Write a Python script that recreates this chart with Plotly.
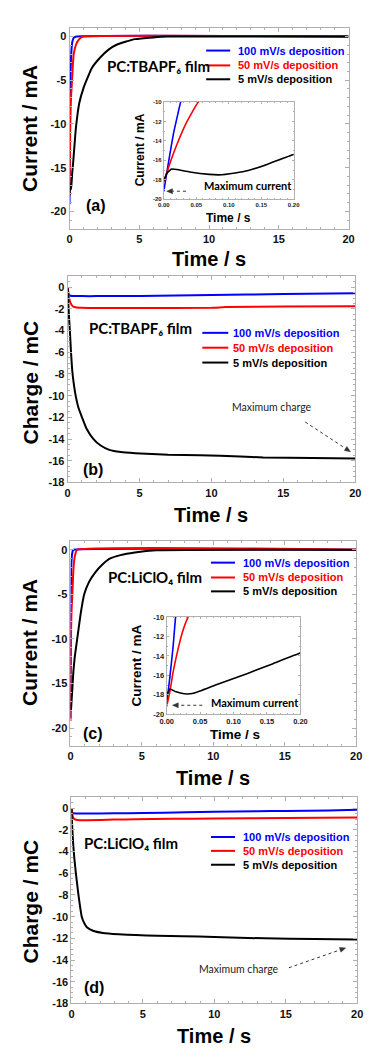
import plotly.graph_objects as go

W, H = 369, 1052

# ---------------- (a) PC:TBAPF6 film, current transients ----------------
ta_100 = [0, 0.004, 0.008, 0.015, 0.02, 0.026, 0.04, 0.07, 0.1, 0.15, 0.2, 0.3, 0.5, 20]
ia_100 = [-19.2, -17.5, -15.9, -13.2, -11.7, -10.0, -7.6, -4.6, -2.8, -1.3, -0.6, -0.15, 0, 0]
ta_50 = [0, 0.005, 0.01, 0.02, 0.035, 0.053, 0.08, 0.12, 0.18, 0.24, 0.3, 0.45, 0.6, 0.8, 1.0, 20]
ia_50 = [-18.2, -17.2, -16.2, -14.4, -12.1, -10.0, -8.2, -6.5, -5.0, -3.2, -2.0, -1.0, -0.5, -0.15, 0, 0]
ta_5 = [0, 0.005, 0.012, 0.02, 0.04, 0.07, 0.085, 0.11, 0.13, 0.16, 0.2, 0.23, 0.3, 0.46,
        0.7, 1.0, 1.22, 1.6, 2.2, 2.8, 3.3, 4.0, 4.7, 6.0, 7.0, 20]
ia_5 = [-18.1, -17.3, -16.9, -16.95, -17.2, -17.45, -17.5, -17.3, -17.05, -16.4, -15.4, -15.0,
        -13.6, -10.4, -7.6, -5.9, -5.0, -3.6, -2.4, -1.5, -1.0, -0.6, -0.3, -0.1, 0, 0]

# ---------------- (b) PC:TBAPF6 film, charge ----------------
tb_100 = [0, 0.05, 0.1, 0.2, 0.4, 1, 2, 5, 10, 15, 20]
qb_100 = [0, -0.5, -0.7, -0.78, -0.8, -0.82, -0.82, -0.8, -0.72, -0.63, -0.55]
tb_50 = [0, 0.05, 0.1, 0.2, 0.35, 0.56, 1.0, 1.6, 5, 10, 11, 15, 20]
qb_50 = [0, -0.6, -1.0, -1.45, -1.75, -1.85, -1.9, -1.92, -1.92, -1.9, -1.82, -1.78, -1.75]
tb_5 = [0, 0.04, 0.08, 0.16, 0.22, 0.33, 0.45, 0.56, 0.75, 1.0, 1.3, 1.8, 2.3, 2.9, 3.7, 4.7,
        7, 9.2, 12, 13.6, 17, 20]
qb_5 = [0, -1.2, -2.3, -4.1, -5.6, -7.8, -9.1, -10.0, -11.1, -12.0, -13.0, -14.0, -14.6, -15.0,
        -15.2, -15.3, -15.45, -15.5, -15.6, -15.7, -15.75, -15.8]

# ---------------- (c) PC:LiClO4 film, current transients ----------------
tc_100 = [0, 0.0047, 0.0095, 0.0133, 0.02, 0.03, 0.05, 0.08, 0.12, 0.16, 0.2, 20]
ic_100 = [-18.9, -16.2, -13.1, -10.0, -7.0, -4.5, -2.2, -1.0, -0.4, -0.1, 0, 0]
tc_50 = [0, 0.0047, 0.0095, 0.0166, 0.0237, 0.032, 0.05, 0.08, 0.13, 0.18, 0.25, 0.35, 0.45, 20]
ic_50 = [-19.2, -17.7, -15.7, -13.4, -11.5, -10.0, -8.2, -6.5, -5.0, -3.0, -1.3, -0.4, 0, 0]
tc_5 = [0, 0.0047, 0.014, 0.026, 0.04, 0.073, 0.121, 0.159, 0.2, 0.3, 0.47, 0.7, 0.96, 1.3,
        1.75, 2.2, 2.75, 3.5, 4.5, 6, 20]
ic_5 = [-18.1, -17.4, -17.7, -17.9, -17.85, -17.0, -15.8, -14.8, -13.7, -12.0, -10.0, -7.3,
        -5.0, -3.6, -2.5, -1.7, -1.0, -0.6, -0.3, -0.05, 0]

# ---------------- (d) PC:LiClO4 film, charge ----------------
td_100 = [0, 0.05, 0.1, 0.3, 1, 3, 5, 8, 10, 13, 15, 18, 20]
qd_100 = [0, -0.35, -0.45, -0.48, -0.48, -0.47, -0.45, -0.38, -0.33, -0.28, -0.25, -0.2, -0.15]
td_50 = [0, 0.05, 0.1, 0.2, 0.4, 1.1, 3, 4.5, 7, 10, 15, 20]
qd_50 = [0, -0.5, -0.8, -1.0, -1.08, -1.1, -1.05, -1.02, -0.98, -0.95, -0.9, -0.85]
td_5 = [0, 0.05, 0.11, 0.2, 0.31, 0.49, 0.72, 0.9, 1.1, 1.5, 2.2, 3.3, 4.5, 6, 7.8, 10, 13.5,
        17, 20]
qd_5 = [0, -1.6, -3.1, -4.6, -6.0, -8.0, -10.0, -10.6, -11.0, -11.3, -11.5, -11.62, -11.7,
        -11.75, -11.8, -11.88, -12.0, -12.05, -12.1]

# ---------------- labels and ticks ----------------
series_names = ["100 mV/s deposition", "50 mV/s deposition", "5 mV/s deposition"]
series_colors = ["#0000ff", "#ff0000", "#000000"]
film_labels = ["PC:TBAPF₆ film", "PC:LiClO₄ film"]
time_ticks = [0, 5, 10, 15, 20]
current_ticks = [0, -5, -10, -15, -20]
charge_ticks = [0, -2, -4, -6, -8, -10, -12, -14, -16, -18]
inset_time_ticks = [0.0, 0.05, 0.10, 0.15, 0.20]
inset_current_ticks = [-20, -18, -16, -14, -12, -10]


def tick_text(vals, fmt="{:g}"):
    return [fmt.format(v) for v in vals]


def px_x(p):
    return p / W


def px_y(p):
    return 1 - p / H


FRAME = "#b0b0b0"
BOLD = "Liberation Sans, Arial, sans-serif"
CAL = "Lato, sans-serif"

fig = go.Figure()

panels = [
    ("", [(ta_100, ia_100), (ta_50, ia_50), (ta_5, ia_5)]),
    ("2", [(tb_100, qb_100), (tb_50, qb_50), (tb_5, qb_5)]),
    ("3", [(tc_100, ic_100), (tc_50, ic_50), (tc_5, ic_5)]),
    ("4", [(td_100, qd_100), (td_50, qd_50), (td_5, qd_5)]),
]

for suffix, series in panels:
    for (t, v), name, col in zip(series, series_names, series_colors):
        fig.add_trace(go.Scatter(
            x=t, y=v, mode="lines", name=name, showlegend=False,
            line=dict(color=col, width=2, shape="spline", smoothing=0.4),
            xaxis="x" + suffix, yaxis="y" + suffix,
        ))

# insets: early-time zoom of the current transients
for suffix, series in [("5", panels[0][1]), ("6", panels[2][1])]:
    for (t, v), name, col in zip(series, series_names, series_colors):
        fig.add_trace(go.Scatter(
            x=t, y=v, mode="lines", name=name, showlegend=False,
            line=dict(color=col, width=1.6, shape="spline", smoothing=0.4),
            xaxis="x" + suffix, yaxis="y" + suffix, cliponaxis=True,
        ))


def main_axes(xd, yd, yr, yt, yminor):
    common = dict(ticks="inside", ticklen=4, tickcolor=FRAME,
                  showline=True, linecolor=FRAME, linewidth=1, mirror="allticks",
                  showgrid=False, zeroline=False,
                  tickfont=dict(family=BOLD, size=11, color="#111", weight="bold"))
    xa = dict(domain=[px_x(xd[0]), px_x(xd[1])], range=[0, 20],
              tickvals=time_ticks, ticktext=tick_text(time_ticks),
              minor=dict(ticks="inside", ticklen=2, dtick=1, tickcolor=FRAME), **common)
    ya = dict(domain=[px_y(yd[1]), px_y(yd[0])], range=yr,
              tickvals=yt, ticktext=tick_text(yt),
              minor=dict(ticks="inside", ticklen=2, dtick=yminor, tickcolor=FRAME), **common)
    return xa, ya


def inset_axes(xd, yd, fs):
    common = dict(ticks="inside", ticklen=2, tickcolor=FRAME,
                  showline=True, linecolor=FRAME, linewidth=1, mirror="allticks",
                  showgrid=False, zeroline=False,
                  tickfont=dict(family=BOLD, size=fs, color="#222", weight="bold"))
    xa = dict(domain=[px_x(xd[0]), px_x(xd[1])], range=[0, 0.2],
              tickvals=inset_time_ticks, ticktext=tick_text(inset_time_ticks, "{:.2f}"),
              minor=dict(ticks="inside", ticklen=1, dtick=0.01, tickcolor=FRAME), **common)
    ya = dict(domain=[px_y(yd[1]), px_y(yd[0])], range=[-20, -10],
              tickvals=inset_current_ticks, ticktext=tick_text(inset_current_ticks),
              minor=dict(ticks="inside", ticklen=1, dtick=1, tickcolor=FRAME), **common)
    return xa, ya


layout_axes = {}
specs = [
    ("", (65, 355), (24, 227), [-22, 1], current_ticks, 1),
    ("2", (63, 362), (275, 483), [-18, 1], charge_ticks, 0.5),
    ("3", (66, 363), (542, 749), [-22, 1], current_ticks, 1),
    ("4", (67, 364), (801, 1009), [-18, 1], charge_ticks, 0.5),
]
for s, xd, yd, yr, yt, ym in specs:
    xa, ya = main_axes(xd, yd, yr, yt, ym)
    xa["anchor"] = "y" + s
    ya["anchor"] = "x" + s
    layout_axes["xaxis" + s] = xa
    layout_axes["yaxis" + s] = ya

for s, xd, yd, fs in [("5", (163, 298), (99, 197), 6), ("6", (166, 305), (619, 717), 7.5)]:
    xa, ya = inset_axes(xd, yd, fs)
    xa["anchor"] = "y" + s
    ya["anchor"] = "x" + s
    layout_axes["xaxis" + s] = xa
    layout_axes["yaxis" + s] = ya

ann = []
shapes = []


def text(x, y, s, size, family=BOLD, color="#000", xanchor="center", angle=0, weight="bold"):
    ann.append(dict(x=px_x(x), y=px_y(y), xref="paper", yref="paper", text=s,
                    showarrow=False, xanchor=xanchor, yanchor="middle", textangle=angle,
                    font=dict(family=family, size=size, color=color, weight=weight)))


# axis titles
for xc, ty, label, ly in [(210, 257, "Current / mA", 126), (212, 516, "Charge / mC", 382),
                          (214, 781, "Current / mA", 645), (215, 1042, "Charge / mC", 906)]:
    text(xc, ty, "Time / s", 20)
    text(24, ly, label, 21, angle=-90)

# inset titles
text(230, 216, "Time / s", 12)
text(138, 147, "Current / mA", 12, angle=-90)
text(237, 738, "Time / s", 13.5)
text(135, 668, "Current / mA", 13.5, angle=-90)

# panel letters
for x, y, s in [(80, 203, "(a)"), (77, 470, "(b)"), (77, 737, "(c)"), (78, 993, "(d)")]:
    text(x, y, s, 16, xanchor="left")

# film labels
text(102, 63, film_labels[0], 15, family=CAL, xanchor="left")
text(83, 327, film_labels[0], 15, family=CAL, xanchor="left")
text(103, 578, film_labels[1], 15, family=CAL, xanchor="left")
text(78, 847, film_labels[1], 15, family=CAL, xanchor="left")

# legends
for x0, x1, xt, rows in [(207, 232, 238, (47, 62, 76)), (203, 230, 233, (332, 347, 362)),
                         (212, 237, 243, (564, 579, 593)), (212, 237, 243, (841, 855, 869))]:
    for r, name, col in zip(rows, series_names, series_colors):
        shapes.append(dict(type="line", xref="paper", yref="paper",
                           x0=px_x(x0), x1=px_x(x1), y0=px_y(r), y1=px_y(r),
                           line=dict(color=col, width=2)))
        text(xt, r, name, 11, color=col, xanchor="left")


def dotted_arrow(xs, ys, xe, ye):
    """Dotted pointer line ending in a small filled arrowhead."""
    dx, dy = xe - xs, ye - ys
    n = (dx * dx + dy * dy) ** 0.5
    ux, uy = dx / n, dy / n
    bx, by = xe - ux * 6, ye - uy * 6
    shapes.append(dict(type="line", xref="paper", yref="paper",
                       x0=px_x(xs), y0=px_y(ys), x1=px_x(bx), y1=px_y(by),
                       line=dict(color="#333", width=1, dash="dot")))
    px_, py_ = -uy * 2.5, ux * 2.5
    pts = [(xe, ye), (bx + px_, by + py_), (bx - px_, by - py_)]
    path = "M " + " L ".join(f"{px_x(a):.5f},{px_y(b):.5f}" for a, b in pts) + " Z"
    shapes.append(dict(type="path", xref="paper", yref="paper", path=path,
                       fillcolor="#333", line=dict(color="#333", width=0.5)))


# maximum current / charge notes
text(203, 183, "Maximum current", 11, family=CAL, xanchor="left")
dotted_arrow(186, 189, 166, 189)
text(210, 705, "Maximum current", 11, family=CAL, xanchor="left")
dotted_arrow(203, 708, 172, 708)
text(232, 407, "Maximum charge", 10.5, family=CAL, color="#222", xanchor="left", weight="normal")
dotted_arrow(310, 422, 357, 452)
text(198, 974, "Maximum charge", 10.5, family=CAL, color="#222", xanchor="left", weight="normal")
dotted_arrow(293, 973, 352, 953)

fig.update_layout(
    width=W, height=H, margin=dict(l=0, r=0, t=0, b=0),
    paper_bgcolor="white", plot_bgcolor="white",
    showlegend=False, annotations=ann, shapes=shapes,
    **layout_axes,
)

fig.write_html("out.html", config={"displayModeBar": False})
